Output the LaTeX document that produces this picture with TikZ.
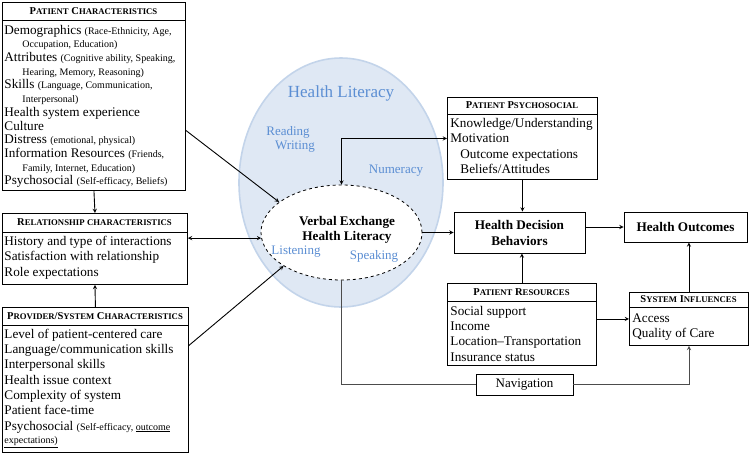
\documentclass[tikz,border=0pt]{standalone}
\usepackage{fontspec}
\setmainfont{Liberation Serif}
\usepackage{tikz}
\usetikzlibrary{shapes.geometric}

\definecolor{hlfill}{HTML}{DFE8F4}
\definecolor{hledge}{HTML}{C3D4EA}
\definecolor{hlblue}{HTML}{5B8ED3}

\newcommand{\capsw}[2]{#1{\fontsize{8.7}{9}\selectfont #2}}
\newcommand{\smalltxt}[1]{{\fontsize{10}{11}\selectfont #1}}

\tikzset{
  box/.style={draw, inner sep=0pt, anchor=north west},
  hdr/.style={font=\bfseries\fontsize{10.5}{11}\selectfont},
  body/.style={anchor=north west, inner sep=0pt, align=left},
  hltext/.style={text=hlblue, font=\fontsize{13}{15}\selectfont}
}

\begin{document}
\begin{tikzpicture}[x=1pt, y=-1pt, >=stealth, line width=0.9pt]
\useasboundingbox (0,0) rectangle (750,453);

\node [ellipse, draw=hledge, fill=hlfill, line width=1.6pt, minimum width=204pt, minimum height=249pt] (hl) at (341,182.5) {};
\node [hltext, font=\fontsize{17}{19}\selectfont] (hlt) at (341,93) {Health Literacy};
\node [hltext] (read) at (288,132) {Reading};
\node [hltext] (write) at (295,147) {Writing};
\node [hltext] (num) at (396,171) {Numeracy};

\node [ellipse, draw, dashed, fill=white, line width=0.8pt, minimum width=161pt, minimum height=95pt] (vx) at (341.5,232.5) {};
\node [font=\bfseries\fontsize{13.2}{15}\selectfont, align=center] (vxt) at (347,229.5) {Verbal Exchange\\Health Literacy};
\node [hltext] (listen) at (296,252) {Listening};
\node [hltext] (speak) at (374,256) {Speaking};

\node [box, minimum width=183pt, minimum height=188pt] (pc) at (2,2) {};
\draw ([yshift=-18pt]pc.north west) -- ([yshift=-18pt]pc.north east);
\node [hdr] (pct) at (93.5,11) {\capsw{P}{ATIENT} \capsw{C}{HARACTERISTICS}};
\node [body, font=\fontsize{13.2}{13.7}\selectfont] (pcb) at (4,24.5) {Demographics \smalltxt{(Race-Ethnicity, Age,}\\\hspace*{18pt}\smalltxt{Occupation, Education)}\\Attributes \smalltxt{(Cognitive ability, Speaking,}\\\hspace*{18pt}\smalltxt{Hearing, Memory, Reasoning)}\\Skills \smalltxt{(Language, Communication,}\\\hspace*{18pt}\smalltxt{Interpersonal)}\\Health system experience\\Culture\\Distress \smalltxt{(emotional, physical)}\\Information Resources \smalltxt{(Friends,}\\\hspace*{18pt}\smalltxt{Family, Internet, Education)}\\Psychosocial \smalltxt{(Self-efficacy, Beliefs)}};

\node [box, minimum width=185pt, minimum height=71pt] (rel) at (2,213) {};
\draw ([yshift=-19pt]rel.north west) -- ([yshift=-19pt]rel.north east);
\node [hdr] (relt) at (94.5,222.5) {\capsw{R}{ELATIONSHIP} {\fontsize{8.7}{9}\selectfont CHARACTERISTICS}};
\node [body, font=\fontsize{13.2}{15.5}\selectfont] (relb) at (4,235.5) {History and type of interactions\\Satisfaction with relationship\\Role expectations};

\node [box, minimum width=186pt, minimum height=145pt] (prov) at (2,307) {};
\draw ([yshift=-18pt]prov.north west) -- ([yshift=-18pt]prov.north east);
\node [hdr] (provt) at (95,316) {\capsw{P}{ROVIDER}/\capsw{S}{YSTEM} \capsw{C}{HARACTERISTICS}};
\node [body, font=\fontsize{13.2}{15.3}\selectfont] (provb) at (4,328.5) {Level of patient-centered care\\Language/communication skills\\Interpersonal skills\\Health issue context\\Complexity of system\\Patient face-time\\Psychosocial \smalltxt{(Self-efficacy, \underline{outcome}}\\[-2pt]\smalltxt{\underline{expectations)}}};

\node [box, minimum width=150pt, minimum height=82pt] (pps) at (447,97) {};
\draw ([yshift=-17pt]pps.north west) -- ([yshift=-17pt]pps.north east);
\node [hdr] (ppst) at (522,105.5) {\capsw{P}{ATIENT} \capsw{P}{SYCHOSOCIAL}};
\node [body, font=\fontsize{13.2}{15.6}\selectfont] (ppsb) at (450,117.5) {Knowledge/Understanding\\Motivation\\\hspace*{10pt}Outcome expectations\\\hspace*{10pt}Beliefs/Attitudes};

\node [draw, minimum width=131pt, minimum height=41pt, align=center, font=\bfseries\fontsize{13.2}{16}\selectfont] (hdb) at (519.5,232.5) {Health Decision\\Behaviors};
\node [draw, minimum width=123pt, minimum height=30pt, font=\bfseries\fontsize{13.2}{16}\selectfont] (ho) at (685.5,227) {Health Outcomes};

\node [box, minimum width=149pt, minimum height=82pt] (pr) at (447,283) {};
\draw ([yshift=-18pt]pr.north west) -- ([yshift=-18pt]pr.north east);
\node [hdr] (prt) at (521.5,292) {\capsw{P}{ATIENT} \capsw{R}{ESOURCES}};
\node [body, font=\fontsize{13.2}{15.3}\selectfont] (prb) at (450,305.7) {Social support\\Income\\Location--Transportation\\Insurance status};

\node [box, minimum width=119pt, minimum height=53pt] (si) at (629,292) {};
\draw ([yshift=-15pt]si.north west) -- ([yshift=-15pt]si.north east);
\node [hdr] (sit) at (688.5,299.5) {\capsw{S}{YSTEM} \capsw{I}{NFLUENCES}};
\node [body, font=\fontsize{13.2}{15}\selectfont] (sib) at (632,313.7) {Access\\Quality of Care};

\node [draw, minimum width=97pt, minimum height=21pt, font=\fontsize{13}{15}\selectfont] (nav) at (524.5,384.5) {Navigation};

\draw [->] (pc.south) -- (rel.north);
\draw [->] (prov.north) -- (rel.south);
\draw [<->] (vx.184) -- (vx.184 -| rel.east);
\draw [->] ([yshift=-34pt]pc.east) -- (vx.154);
\draw [->] ([yshift=34.5pt]prov.east) -- (vx.210);
\draw [<->] (vx.north) |- (pps.west);
\draw [->] (vx.east) -- (hdb.west);
\draw [->] (pps.south) -- (pps.south |- hdb.north);
\draw [->] (pr.north) -- (pr.north |- hdb.south);
\draw [->] (hdb.east |- ho.west) -- (ho.west);
\draw [->] (pr.east |- si.west) -- (si.west);
\draw [->] (si.north) -- (si.north |- ho.south);
\draw [black!70] (vx.south) |- (nav.west);
\draw [->, black!70] (nav.east) -| (si.south);

\end{tikzpicture}
\end{document}
